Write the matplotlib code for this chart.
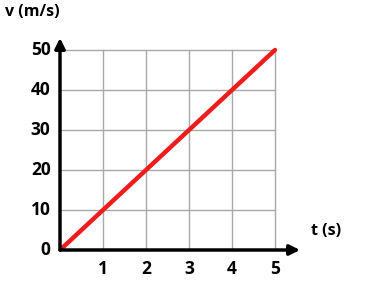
import matplotlib.pyplot as plt

# data
t_vals = [0, 1, 2, 3, 4, 5]
v_vals = [0, 10, 20, 30, 40, 50]
x_ticks = [1, 2, 3, 4, 5]
y_ticks = [10, 20, 30, 40, 50]

plt.rcParams['font.family'] = ['Open Sans', 'DejaVu Sans']

fig = plt.figure(figsize=(3.82, 2.81), dpi=100)
ax = fig.add_axes([60 / 382, 31 / 281, 240 / 382, 212 / 281])
ax.set_xlim(0, 240 / 43)
ax.set_ylim(0, 53)
ax.axis('off')

# grid
for x in x_ticks:
    ax.plot([x, x], [0, 50], color='#a8a8a8', lw=1, zorder=1)
for y in y_ticks:
    ax.plot([0, 5], [y, y], color='#a8a8a8', lw=1, zorder=1)

# line
ax.plot(t_vals, v_vals, color='#ee1c1c', lw=3.2, zorder=3, solid_capstyle='round')

# axes arrows
arr = dict(arrowstyle='-|>,head_length=0.6,head_width=0.3', color='black', lw=2.5, shrinkA=0, shrinkB=0)
ax.annotate('', xy=(240 / 43, 0), xytext=(0, 0), arrowprops=arr, zorder=4)
ax.annotate('', xy=(0, 53), xytext=(0, 0), arrowprops=arr, zorder=4)

# tick labels
for x in x_ticks:
    ax.text(x, -2.6, str(x), ha='center', va='top', fontsize=12.5, fontweight='bold')
for y in [0] + y_ticks:
    ax.text(-0.22, y, str(y), ha='right', va='center', fontsize=12.5, fontweight='bold')

fig.text(5 / 382, 1 - 12 / 281, 'v (m/s)', ha='left', va='center', fontsize=11.5, fontweight='bold')
fig.text(311 / 382, 1 - 231 / 281, 't (s)', ha='left', va='center', fontsize=11.5, fontweight='bold')

fig.savefig('out.png', dpi=100)
